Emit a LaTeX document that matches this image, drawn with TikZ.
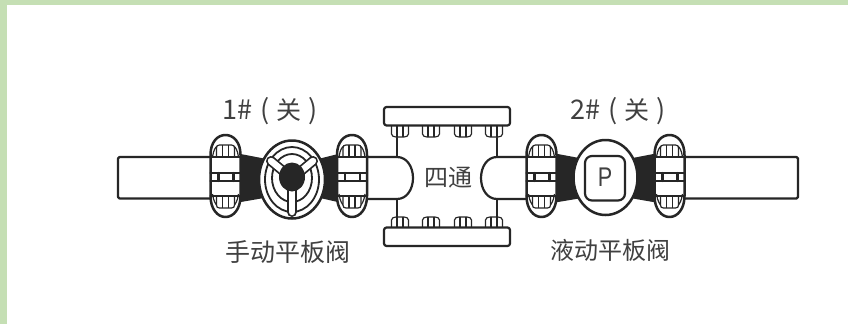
\documentclass[tikz,border=0pt]{standalone}
\usepackage{fontspec}
\newfontfamily\cjk{Noto Sans CJK SC}
\setmainfont{Liberation Sans}
\definecolor{ink}{HTML}{262626}
\definecolor{txt}{HTML}{404040}
\definecolor{bordergreen}{HTML}{C5DFB4}
\tikzset{
  line/.style={draw=ink,line width=2.2pt,line join=round,line cap=round},
  thinline/.style={draw=ink,line width=1.2pt},
  label/.style={inner sep=0pt,text=txt,font=\cjk\fontsize{27}{27}\selectfont},
  clamp/.pic={
    \path[line,fill=white,line width=2.5pt] (-15,-21) .. controls (-15,-34) and (-8,-41) .. (0,-41)
      .. controls (8,-41) and (15,-34) .. (15,-21) -- (15,20)
      .. controls (15,33) and (8,41) .. (0,41)
      .. controls (-8,41) and (-15,33) .. (-15,20) -- cycle;
    \draw[thinline] (-13,-19) .. controls (-12,-26) and (-10,-29) .. (-8,-30) (13,-19) .. controls (12,-26) and (10,-29) .. (8,-30);
    \draw[thinline] (-13,18) .. controls (-12,25) and (-10,28) .. (-8,30) (13,18) .. controls (12,25) and (10,28) .. (8,30);
    \draw[thinline,fill=white] (-9,-19) -- (-9,-28) .. controls (-9,-30) and (-8,-31) .. (-6,-31) -- (6,-31) .. controls (8,-31) and (9,-30) .. (9,-28) -- (9,-19);
    \draw[thinline,fill=white] (-9,19) -- (-9,29) .. controls (-9,31) and (-8,32) .. (-6,32) -- (6,32) .. controls (8,32) and (9,31) .. (9,29) -- (9,19);
    \foreach \vx in {-3,3}{
      \draw[thinline] (\vx,-31) -- (\vx,-19);
      \draw[thinline] (\vx,32) -- (\vx,19);
    }
    \draw[line] (-15,-19) -- (15,-19) (-15,-3) -- (15,-3) (-15,5) -- (15,5) (-15,20) -- (15,20);
    \draw[line] (-7,-3) -- (-7,5) (8,-3) -- (8,5);
  },
  bolt down/.pic={
    \draw[thinline,fill=white] (-8.5,0) -- (-8.5,8) .. controls (-8.5,10) and (-6,11) .. (-4,11) -- (4,11) .. controls (6,11) and (8.5,10) .. (8.5,8) -- (8.5,0);
    \draw[thinline] (-3,0) -- (-3,11) (3,0) -- (3,11);
  },
  bolt up/.pic={
    \draw[thinline,fill=white] (-8.5,0) -- (-8.5,-7) .. controls (-8.5,-9) and (-6,-10) .. (-4,-10) -- (4,-10) .. controls (6,-10) and (8.5,-9) .. (8.5,-7) -- (8.5,0);
    \draw[thinline] (-3,0) -- (-3,-10) (3,0) -- (3,-10);
  },
  spoke/.style={draw=ink,line width=10pt,line cap=round},
  spokein/.style={draw=white,line width=6.5pt,line cap=round},
}
\begin{document}
\begin{tikzpicture}[x=1pt,y=-1pt]
\useasboundingbox (0,0) rectangle (848,324);
\fill[white] (0,0) rectangle (848,324);
\fill[bordergreen] (0,0) rectangle (848,5);
\fill[bordergreen] (0,0) rectangle (7,324);

% pipes
\draw[line,fill=white,rounded corners=1.5pt] (225,157) -- (118,157) -- (118,198.5) -- (225,198.5);
\draw[line,fill=white,rounded corners=1.5pt] (670,157) -- (798,157) -- (798,198.5) -- (670,198.5);

% four-way body
\coordinate (ftl) at (397,125);
\coordinate (ftr) at (497,125);
\coordinate (fbl) at (397,228);
\coordinate (fbr) at (497,228);
\coordinate (lt) at (397,157);
\coordinate (lb) at (397,199);
\coordinate (rt) at (497,157);
\coordinate (rb) at (497,199);
\draw[line] (350,157) -- (lt) .. controls (407,157) and (413,167) .. (413,178) .. controls (413,189) and (407,199) .. (lb) -- (350,199);
\draw[line] (540,157) -- (rt) .. controls (487,157) and (481,167) .. (481,178) .. controls (481,189) and (487,199) .. (rb) -- (540,199);
\draw[line] (ftl) -- (lt) (lb) -- (fbl) (ftr) -- (rt) (rb) -- (fbr);
\foreach \bx in {400,431,463,494}{
  \pic at (\bx,126) {bolt down};
  \pic at (\bx,227) {bolt up};
}
\draw[line,fill=white,rounded corners=2.5pt] (384,107) rectangle (510,125.5);
\draw[line,fill=white,rounded corners=2.5pt] (384,227.5) rectangle (510,246);

% black necks
\fill[ink] (238,153.5) -- (264,158.5) -- (264,198) -- (238,202.5) -- cycle;
\fill[ink] (320,158.5) -- (340,153.5) -- (340,202.5) -- (320,198) -- cycle;
\fill[ink] (555,153.5) -- (582,158.5) -- (582,198) -- (555,202.5) -- cycle;
\fill[ink] (630,158.5) -- (656,153.5) -- (656,202.5) -- (630,198) -- cycle;

% clamps
\pic at (225.5,176) {clamp};
\pic at (352,176) {clamp};
\pic at (541.5,176) {clamp};
\pic at (669.5,176) {clamp};

% manual valve
\draw[line,fill=white,line width=2.5pt] (292,179.5) ellipse [x radius=33,y radius=39];
\draw[line,line width=1.8pt] (292,179.5) ellipse [x radius=27,y radius=32.5];
\draw[line,line width=1.8pt] (292,178) ellipse [x radius=20,y radius=24];
\draw[spoke] (271,161) -- (283,171);
\draw[spoke] (313,161) -- (301,171);
\draw[spoke] (292,190) -- (292,212);
\draw[spokein] (271,161) -- (283,171);
\draw[spokein] (313,161) -- (301,171);
\draw[spokein] (292,190) -- (292,212);
\fill[ink] (292,177) ellipse [x radius=13,y radius=14.5];

% hydraulic valve
\draw[line,fill=white,line width=2.5pt] (605.5,177.5) ellipse [x radius=32,y radius=37.5];
\draw[line,rounded corners=7pt] (585,156) rectangle (625,200.5);
\node[inner sep=0pt,text=txt,xscale=.8,font=\fontsize{27}{27}\selectfont] (p) at (605,177.5) {P};

% texts
\node[label] (t1) at (270.5,111) {1\#\hspace{8pt}(\hspace{7pt}{\fontsize{25}{25}\selectfont 关}\hspace{7pt})};
\node[label] (t2) at (618.5,111) {2\#\hspace{8pt}(\hspace{7pt}{\fontsize{25}{25}\selectfont 关}\hspace{7pt})};
\node[label,font=\cjk\fontsize{25}{25}\selectfont] (t3) at (287.5,252) {手动平板阀};
\node[label,font=\cjk\fontsize{24}{24}\selectfont] (t4) at (610,250) {液动平板阀};
\node[label,font=\cjk\fontsize{24}{24}\selectfont] (t5) at (448.5,178) {四通};
\end{tikzpicture}
\end{document}
